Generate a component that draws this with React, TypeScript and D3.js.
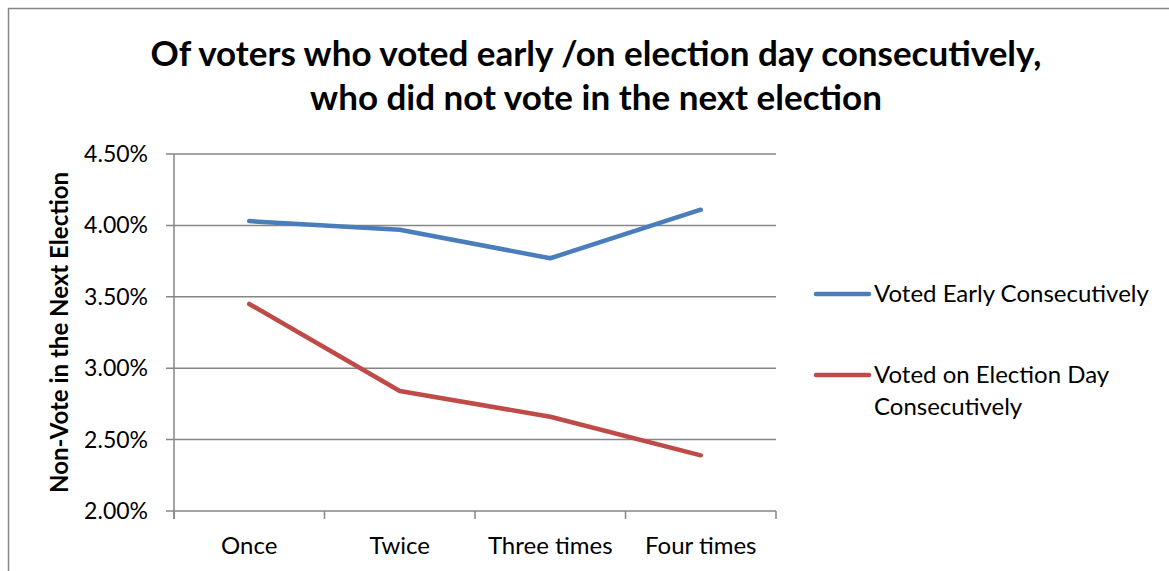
import React from "react";
import * as d3 from "d3";

const categories = ["Once", "Twice", "Three times", "Four times"];
const earlyValues = [4.03, 3.97, 3.77, 4.11];
const electionDayValues = [3.45, 2.84, 2.66, 2.39];
const yTicks = [2.0, 2.5, 3.0, 3.5, 4.0, 4.5];
const seriesNames = ["Voted Early Consecutively", "Voted on Election Day Consecutively"];

const FONT = "Lato, 'Open Sans', sans-serif";

export default function App() {
  const W = 1169, H = 571;
  const left = 174, right = 776, top = 154, bottom = 511;
  const x = d3.scaleBand<string>().domain(categories).range([left, right]).padding(0);
  const y = d3.scaleLinear().domain([2, 4.5]).range([bottom, top]);
  const line = d3.line<number>()
    .x((_, i) => (x(categories[i]) as number) + x.bandwidth() / 2)
    .y((d) => y(d));
  const series = [
    { name: seriesNames[0], values: earlyValues, color: "#4A7EBB" },
    { name: seriesNames[1], values: electionDayValues, color: "#BE4B48" },
  ];
  const tickEdges = [...categories.map((c) => x(c) as number), right];
  return (
    <svg width={W} height={H} style={{ position: "absolute", left: 0, top: 0, background: "#fff" }}>
      <rect x={8.5} y={8.5} width={W + 10} height={H + 10} fill="#fff" stroke="#868686" strokeWidth={1.5} />
      <text x={596} y={66} textAnchor="middle" fontFamily={FONT} fontWeight="bold" fontSize={35} fill="#000">
        Of voters who voted early /on election day consecutively,
      </text>
      <text x={596} y={110} textAnchor="middle" fontFamily={FONT} fontWeight="bold" fontSize={35} fill="#000">
        who did not vote in the next election
      </text>
      {yTicks.map((t) => (
        <g key={t}>
          <line x1={166} x2={right} y1={y(t)} y2={y(t)} stroke="#868686" strokeWidth={1.5} />
          <text x={148} y={y(t) + 8} textAnchor="end" fontFamily={FONT} fontSize={23} fill="#000">
            {t.toFixed(2) + "%"}
          </text>
        </g>
      ))}
      <line x1={left} x2={left} y1={top} y2={bottom + 8} stroke="#868686" strokeWidth={1.5} />
      {tickEdges.map((e, i) => (
        <line key={i} x1={e} x2={e} y1={bottom} y2={bottom + 8} stroke="#868686" strokeWidth={1.5} />
      ))}
      {categories.map((c) => (
        <text key={c} x={(x(c) as number) + x.bandwidth() / 2} y={554} textAnchor="middle" fontFamily={FONT} fontSize={24} fill="#000">
          {c}
        </text>
      ))}
      <text transform={`translate(68,332.5) rotate(-90)`} textAnchor="middle" fontFamily={FONT} fontWeight="bold" fontSize={24} fill="#000">
        Non-Vote in the Next Election
      </text>
      {series.map((s) => (
        <path key={s.name} d={line(s.values) || ""} fill="none" stroke={s.color} strokeWidth={4.5} strokeLinecap="round" strokeLinejoin="round" />
      ))}
      <line x1={816} x2={869} y1={294} y2={294} stroke={series[0].color} strokeWidth={4.5} strokeLinecap="round" />
      <text x={874} y={302} fontFamily={FONT} fontSize={24} fill="#000">{seriesNames[0]}</text>
      <line x1={816} x2={869} y1={375} y2={375} stroke={series[1].color} strokeWidth={4.5} strokeLinecap="round" />
      <text x={874} y={383} fontFamily={FONT} fontSize={24} fill="#000">Voted on Election Day</text>
      <text x={874} y={415} fontFamily={FONT} fontSize={24} fill="#000">Consecutively</text>
    </svg>
  );
}
